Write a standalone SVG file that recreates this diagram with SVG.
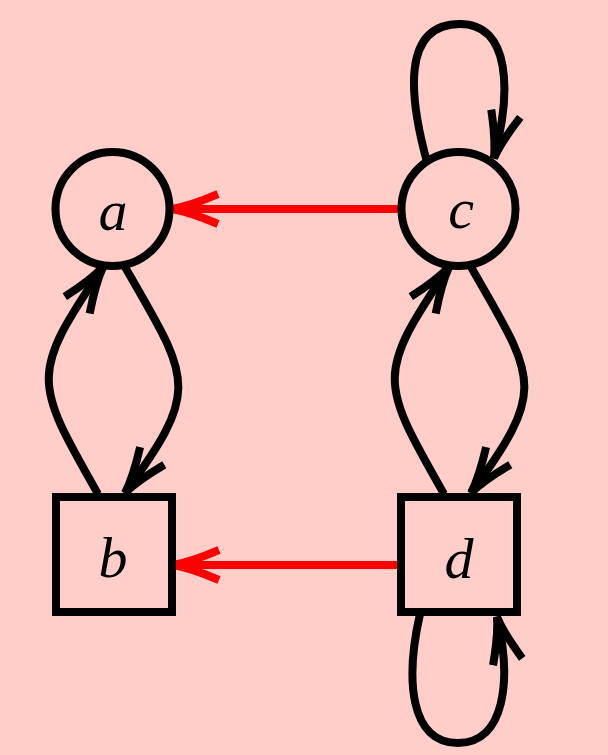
<svg xmlns="http://www.w3.org/2000/svg" width="608" height="755" viewBox="0 0 608 755">
  <defs>
    <style>
      .node { fill: #ffcec9; stroke: #000; stroke-width: 8; }
      .label { font-family: "Liberation Serif", "Times New Roman", serif; font-style: italic; font-size: 58px; fill: #000; text-anchor: middle; }
      .edge { fill: none; stroke: #000; stroke-width: 8; marker-end: url(#tipBlack); }
      .edge-red { fill: none; stroke: #ff0000; stroke-width: 8; marker-end: url(#tipRed); }
    </style>
    <!-- open barbed arrow heads, tip at the path end -->
    <marker id="tipBlack" markerUnits="userSpaceOnUse" orient="auto" markerWidth="60" markerHeight="40" refX="0" refY="0" viewBox="-55 -20 60 40" overflow="visible">
      <path d="M -46 -15 Q -18 -3 0 0 Q -18 3 -46 15" fill="none" stroke="#000" stroke-width="8"/>
    </marker>
    <marker id="tipRed" markerUnits="userSpaceOnUse" orient="auto" markerWidth="60" markerHeight="40" refX="0" refY="0" viewBox="-55 -20 60 40" overflow="visible">
      <path d="M -46 -15 Q -18 -3 0 0 Q -18 3 -46 15" fill="none" stroke="#ff0000" stroke-width="8"/>
    </marker>
  </defs>

  <rect x="0" y="0" width="608" height="755" fill="#ffcec9"/>

  <g id="edges">
    <!-- b -> a and a -> b -->
    <path class="edge" d="M 98 494 C 33 380, 30 375, 103 267"/>
    <path class="edge" d="M 125 267 C 190 380, 202 388, 125 493"/>
    <!-- d -> c and c -> d -->
    <path class="edge" d="M 444 494 C 379 380, 376 375, 449 267"/>
    <path class="edge" d="M 471 267 C 536 380, 548 388, 471 493"/>
    <!-- c -> c loop -->
    <path class="edge" d="M 427 162 C 410 100, 400 24, 460 24 C 510 24, 512 90, 494 158"/>
    <!-- d -> d loop -->
    <path class="edge" d="M 420 614 C 405 680, 410 743, 458 743 C 505 743, 512 680, 497 617"/>
    <!-- c -> a and d -> b -->
    <path class="edge-red" d="M 402 209 L 172 209"/>
    <path class="edge-red" d="M 402 565 L 173 565"/>
  </g>

  <g id="node-a">
    <circle class="node" cx="112.5" cy="209" r="57"/>
    <text class="label" x="113" y="230">a</text>
  </g>
  <g id="node-c">
    <circle class="node" cx="458.5" cy="209" r="57"/>
    <text class="label" x="461" y="228">c</text>
  </g>
  <g id="node-b">
    <rect class="node" x="56" y="497" width="116" height="115"/>
    <text class="label" x="113" y="577">b</text>
  </g>
  <g id="node-d">
    <rect class="node" x="401" y="497" width="116" height="115"/>
    <text class="label" x="459" y="578">d</text>
  </g>
</svg>
